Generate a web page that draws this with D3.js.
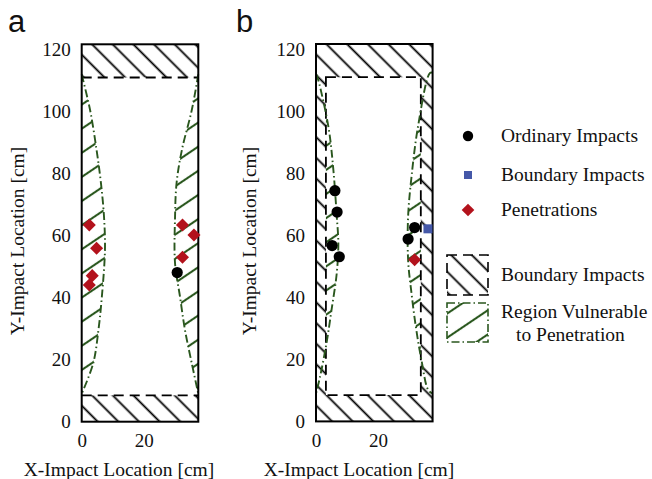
<!DOCTYPE html>
<html>
<head>
<meta charset="utf-8">
<script src="https://cdn.jsdelivr.net/npm/d3@7"></script>
<style>
  body { margin: 0; background: #fff; }
  svg { display: block; }
  text { font-family: "Liberation Serif", "Times New Roman", serif; fill: #111; }
</style>
</head>
<body>
<svg id="chart" width="652" height="479"></svg>
<script>
// ---------- data (cm) ----------
const X_MAX = 37.6, Y_MAX = 121.7;
const xTicks = [0, 20];
const yTicks = [0, 20, 40, 60, 80, 100, 120];

const bandLow = 8.5, bandHigh = 111;       // boundary bands top / bottom
const frameLeft = 3.2, frameRight = 33.8;  // inner boundary, panel b

// vulnerable region edges (x, y)
const curveA_left  = [[0,112],[2.7,100.5],[4.8,87.6],[6.2,77],[7.2,66],[7.5,55.4],[6.5,40.3],[5.4,29.6],[3.7,18.8],[0,9]];
const curveA_right = [[X_MAX,112],[35.5,100.5],[32.3,87.6],[30.6,77],[30.1,66],[30.1,51.1],[31.7,40.3],[33.3,29.6],[35.5,18.8],[X_MAX,9]];
const curveB_left  = [[0,112],[0.4,111.2],[4,95],[5.6,81.1],[6.7,66],[7.2,57.5],[6.7,47.9],[5,35.9],[3.4,25.3],[1.3,14.4],[0,9]];
const curveB_right = [[X_MAX,112.5],[36.7,112.3],[32.9,95.1],[30.8,78.9],[29.7,66],[29.7,52.1],[30.8,41.3],[32.2,30.5],[34,19.8],[36.2,10.1],[X_MAX,9]];

// impacts, panel a
const ordinaryA = [[30.8,48.1]];
const penetrA   = [[2.45,63.4],[4.8,55.9],[3.4,47.1],[2.45,44.1],[32.5,63.4],[36.2,60.2],[32.5,53.0]];
// impacts, panel b
const ordinaryB = [[6.1,74.4],[6.8,67.5],[5.2,56.7],[7.5,53.1],[31.8,62.5],[29.7,58.8]];
const boundaryB = [[36.1,62.1]];
const penetrB   = [[31.8,52.1]];

const legendItems = ["Ordinary Impacts", "Boundary Impacts", "Penetrations"];

// ---------- styles ----------
const RED = "#b3121c", BLUE = "#4558a8", GREEN = "#2a571e";
const W = 116.6, H = 377.4;

const svg = d3.select("#chart");
const defs = svg.append("defs");

function hatch(id, color, spacing, angle, sw) {
  const p = defs.append("pattern")
    .attr("id", id)
    .attr("patternUnits", "userSpaceOnUse")
    .attr("width", spacing).attr("height", spacing)
    .attr("patternTransform", `rotate(${angle})`);
  p.append("line")
    .attr("x1", spacing / 2).attr("y1", 0)
    .attr("x2", spacing / 2).attr("y2", spacing)
    .attr("stroke", color).attr("stroke-width", sw);
}
hatch("blackHatch", "#000", 14.6, -45, 1.8);
hatch("greenHatch", GREEN, 20, 56, 2.1);

const x = d3.scaleLinear().domain([0, X_MAX]).range([0, W]);
const y = d3.scaleLinear().domain([0, Y_MAX]).range([H, 0]);
const line = d3.line().x(d => x(d[0])).y(d => y(d[1])).curve(d3.curveCatmullRom);

function drawPanel(cfg) {
  const g = svg.append("g").attr("transform", `translate(${cfg.left},${cfg.top})`);

  // vulnerable regions
  const gg = g.append("g");
  if (cfg.framed) {
    defs.append("clipPath").attr("id", "innerClip" + cfg.name)
      .append("rect")
      .attr("x", x(frameLeft)).attr("y", y(bandHigh))
      .attr("width", x(frameRight) - x(frameLeft))
      .attr("height", y(bandLow) - y(bandHigh));
    gg.attr("clip-path", `url(#innerClip${cfg.name})`);
  }
  cfg.curves.forEach(c => {
    gg.append("path").attr("d", line(c) + "Z").attr("fill", "url(#greenHatch)");
  });

  // boundary region hatch
  if (cfg.framed) {
    const outer = `M0,0H${W}V${H}H0Z`;
    const inner = `M${x(frameLeft)},${y(bandHigh)}H${x(frameRight)}V${y(bandLow)}H${x(frameLeft)}Z`;
    g.append("path").attr("d", outer + inner).attr("fill-rule", "evenodd")
      .attr("fill", "url(#blackHatch)");
    g.append("path").attr("d", inner).attr("fill", "none")
      .attr("stroke", "#000").attr("stroke-width", 1.8).attr("stroke-dasharray", "10,6");
  } else {
    g.append("rect").attr("x", 0).attr("y", 0).attr("width", W).attr("height", y(bandHigh))
      .attr("fill", "url(#blackHatch)");
    g.append("rect").attr("x", 0).attr("y", y(bandLow)).attr("width", W).attr("height", H - y(bandLow))
      .attr("fill", "url(#blackHatch)");
    [bandHigh, bandLow].forEach(v => {
      g.append("line").attr("x1", 0).attr("x2", W).attr("y1", y(v)).attr("y2", y(v))
        .attr("stroke", "#000").attr("stroke-width", 1.8).attr("stroke-dasharray", "10,6");
    });
  }

  // vulnerable region edges
  cfg.curves.forEach(c => {
    g.append("path").attr("d", line(c)).attr("fill", "none")
      .attr("stroke", GREEN).attr("stroke-width", 1.9)
      .attr("stroke-dasharray", "8,3,1.5,3");
  });

  // box
  g.append("rect").attr("width", W).attr("height", H)
    .attr("fill", "none").attr("stroke", "#000").attr("stroke-width", 2);

  // axes
  const ya = g.append("g")
    .call(d3.axisLeft(y).tickValues(yTicks).tickSize(0).tickPadding(11));
  const xa = g.append("g").attr("transform", `translate(0,${H})`)
    .call(d3.axisBottom(x).tickValues(xTicks).tickSize(0).tickPadding(12));
  [ya, xa].forEach(a => {
    a.select(".domain").remove();
    a.attr("font-family", null).attr("font-size", null);
    a.selectAll("text").style("font-size", "19px").attr("fill", "#111");
  });

  // markers
  g.selectAll(".ord").data(cfg.ordinary).enter().append("circle")
    .attr("cx", d => x(d[0])).attr("cy", d => y(d[1])).attr("r", 5.6).attr("fill", "#000");
  g.selectAll(".bnd").data(cfg.boundary).enter().append("rect")
    .attr("x", d => x(d[0]) - 4.5).attr("y", d => y(d[1]) - 4.5)
    .attr("width", 9).attr("height", 9).attr("fill", BLUE);
  g.selectAll(".pen").data(cfg.penetr).enter().append("path")
    .attr("d", d3.symbol(d3.symbolSquare, 85))
    .attr("transform", d => `translate(${x(d[0])},${y(d[1])}) rotate(45)`)
    .attr("fill", RED);

  // titles
  svg.append("text").attr("x", cfg.xTitle).attr("y", 476)
    .attr("text-anchor", "middle").style("font-size", "19.5px")
    .text("X-Impact Location [cm]");
  svg.append("text").attr("transform", `translate(${cfg.yTitle},241) rotate(-90)`)
    .attr("text-anchor", "middle").style("font-size", "19.5px")
    .text("Y-Impact Location [cm]");
  svg.append("text").attr("x", cfg.labelX).attr("y", 32)
    .style("font-family", "'Liberation Sans', Arial, sans-serif").style("font-size", "31px")
    .text(cfg.name);
}

drawPanel({ name: "a", left: 81.7, top: 44.3, framed: false,
  curves: [curveA_left, curveA_right],
  ordinary: ordinaryA, boundary: [], penetr: penetrA,
  xTitle: 119, yTitle: 24, labelX: 8 });
drawPanel({ name: "b", left: 316, top: 44, framed: true,
  curves: [curveB_left, curveB_right],
  ordinary: ordinaryB, boundary: boundaryB, penetr: penetrB,
  xTitle: 359, yTitle: 256, labelX: 236 });

// ---------- legend ----------
const lg = svg.append("g");
const rowY = [136, 175, 210];
lg.append("circle").attr("cx", 468).attr("cy", rowY[0]).attr("r", 5.2).attr("fill", "#000");
lg.append("rect").attr("x", 464).attr("y", rowY[1] - 4).attr("width", 8).attr("height", 8).attr("fill", BLUE);
lg.append("path").attr("d", d3.symbol(d3.symbolSquare, 80))
  .attr("transform", `translate(468,${rowY[2]}) rotate(45)`).attr("fill", RED);
lg.selectAll(".lt").data(legendItems).enter().append("text")
  .attr("x", 501).attr("y", (d, i) => rowY[i]).attr("dy", "0.33em")
  .style("font-size", "19.5px").text(d => d);

lg.append("rect").attr("x", 447).attr("y", 255).attr("width", 41).attr("height", 40)
  .attr("fill", "url(#blackHatch)").attr("stroke", "#000").attr("stroke-width", 1.6)
  .attr("stroke-dasharray", "10,6");
lg.append("text").attr("x", 501).attr("y", 275).attr("dy", "0.33em")
  .style("font-size", "19.5px").text("Boundary Impacts");
lg.append("rect").attr("x", 447).attr("y", 303).attr("width", 41).attr("height", 39)
  .attr("fill", "url(#greenHatch)").attr("stroke", GREEN).attr("stroke-width", 1.6)
  .attr("stroke-dasharray", "8,3,1.5,3");
lg.append("text").attr("x", 501).attr("y", 312).attr("dy", "0.33em")
  .style("font-size", "19.5px").text("Region Vulnerable");
lg.append("text").attr("x", 516).attr("y", 335).attr("dy", "0.33em")
  .style("font-size", "19.5px").text("to Penetration");
</script>
</body>
</html>
